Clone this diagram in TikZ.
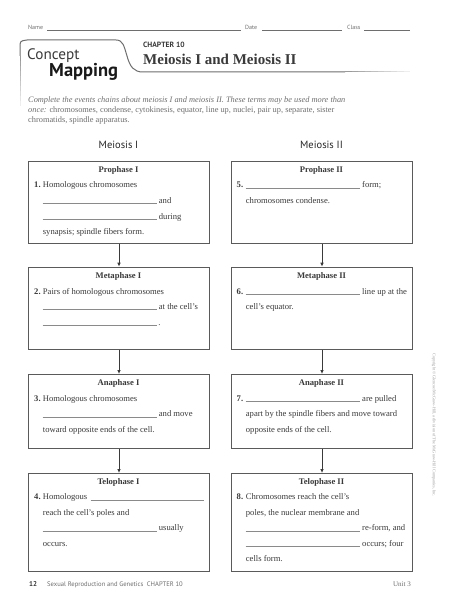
\documentclass[tikz,border=0pt]{standalone}
\usepackage{fontspec}
\setmainfont{Liberation Serif}
\setsansfont{PT Sans}
\usetikzlibrary{arrows.meta}
\definecolor{ink}{HTML}{3A3A3A}
\definecolor{boxgray}{HTML}{5A5A5A}
\definecolor{blankgray}{HTML}{8A8A8A}
\definecolor{softgray}{HTML}{6E6E6E}
\begin{document}
\begin{tikzpicture}[x=1pt,y=-1pt,
  box/.style={draw=boxgray, line width=1pt, minimum width=181pt, anchor=north west, inner sep=0pt},
  txt/.style={anchor=base west, inner sep=0pt, font=\fontsize{8.6}{10}\selectfont, text=ink},
  num/.style={anchor=base west, inner sep=0pt, font=\fontsize{8.6}{10}\selectfont\bfseries, text=ink},
  ttl/.style={anchor=base, inner sep=0pt, font=\fontsize{8.6}{10}\selectfont\bfseries, text=ink},
  blank/.style={draw=blankgray, line width=0.6pt},
  arr/.style={draw=ink, line width=0.8pt, -{Latex[length=4pt,width=3.6pt]}},
  colhead/.style={anchor=center, inner sep=0pt, font=\sffamily\fontsize{10.5}{12}\selectfont, text=black!85},
  hdr/.style={anchor=base west, inner sep=0pt, font=\sffamily\fontsize{6}{7}\selectfont, text=softgray},
  hline/.style={draw=softgray, line width=0.5pt}
]
\useasboundingbox[fill=white] (0,0) rectangle (474,612);

% ---------- header ----------
\node[hdr] (name) at (28,30) {Name};
\draw[hline] (47,30.5) -- (241,30.5);
\node[hdr] (date) at (245,30) {Date};
\draw[hline] (262,30.5) -- (342,30.5);
\node[hdr] (class) at (347,30) {Class};
\draw[hline] (364,30.5) -- (410,30.5);

% tab outline
\draw[draw=softgray, line width=1pt] (20,56) -- (20,48) .. controls (20,41) .. (27,40) -- (116,40)
  .. controls (123,40) and (124,46) .. (127,56) .. controls (130,67) and (134,72) .. (143,72) -- (345,72);
\foreach \i in {0,...,9}{
  \pgfmathsetmacro{\p}{70-6.5*\i}
  \draw[draw=softgray!\p!white, line width=1pt] (20,{56+5*\i}) -- (20,{61+5*\i});
  \draw[draw=softgray!\p!white, line width=1pt] ({345+6.5*\i},72) -- ({351.5+6.5*\i},72);
}
\node[anchor=base west, inner sep=0pt, font=\sffamily\fontsize{15.2}{18}\selectfont, text=ink] (concept) at (27,60) {Concept};
\node[anchor=base west, inner sep=0pt, font=\sffamily\bfseries\fontsize{18.5}{20}\selectfont, text=black!90] (mapping) at (49,77) {Mapping};
\node[anchor=base west, inner sep=0pt, font=\sffamily\bfseries\fontsize{7.6}{9}\selectfont, text=ink] (chap) at (143,47.5) {CHAPTER 10};
\node[anchor=base west, inner sep=0pt, font=\bfseries\fontsize{15}{17}\selectfont, text=ink] (title) at (143,65) {Meiosis I and Meiosis II};

% instructions
\node[anchor=base west, inner sep=0pt, font=\itshape\fontsize{8.35}{10}\selectfont, text=softgray] (ins1) at (28,102.5) {Complete the events chains about meiosis I and meiosis II. These terms may be used more than};
\node[anchor=base west, inner sep=0pt, font=\fontsize{8.35}{10}\selectfont, text=softgray] (ins2) at (28,112.5) {\textit{once:} chromosomes, condense, cytokinesis, equator, line up, nuclei, pair up, separate, sister};
\node[anchor=base west, inner sep=0pt, font=\fontsize{8.35}{10}\selectfont, text=softgray] (ins3) at (28,122.5) {chromatids, spindle apparatus.};

\node[colhead] (h1) at (118.5,145) {Meiosis I};
\node[colhead] (h2) at (321.5,145) {Meiosis II};

% ---------- boxes ----------
\node[box, minimum height=82pt]   (p1) at (28,160.7) {};
\node[box, minimum height=82.6pt] (m1) at (28,266.7) {};
\node[box, minimum height=74pt]   (a1) at (28,374) {};
\node[box, minimum height=97.7pt] (t1) at (28,473) {};
\node[box, minimum height=82pt]   (p2) at (231,160.7) {};
\node[box, minimum height=82.6pt] (m2) at (231,266.7) {};
\node[box, minimum height=74pt]   (a2) at (231,374) {};
\node[box, minimum height=97.7pt] (t2) at (231,473) {};

\draw[arr] (p1.south) -- (m1.north);
\draw[arr] (m1.south) -- (a1.north);
\draw[arr] (a1.south) -- (t1.north);
\draw[arr] (p2.south) -- (m2.north);
\draw[arr] (m2.south) -- (a2.north);
\draw[arr] (a2.south) -- (t2.north);

% Prophase I
\node[ttl] (p1t) at (118.5,172.5) {Prophase I};
\node[num] (p1n) at (34,188) {1.};
\node[txt] (p1a) at (42.7,188) {Homologous chromosomes};
\draw[blank] (42.7,203.5) -- (156.7,203.5);
\node[txt] (p1b) at (158.7,203.5) {and};
\draw[blank] (42.7,219) -- (156.7,219);
\node[txt] (p1c) at (158.7,219) {during};
\node[txt] (p1d) at (42.7,234.5) {synapsis; spindle fibers form.};

% Metaphase I
\node[ttl] (m1t) at (118.5,278.5) {Metaphase I};
\node[num] (m1n) at (34,294) {2.};
\node[txt] (m1a) at (42.7,294) {Pairs of homologous chromosomes};
\draw[blank] (42.7,309.5) -- (156.7,309.5);
\node[txt] (m1b) at (158.7,309.5) {at the cell’s};
\draw[blank] (42.7,325) -- (156.7,325);
\node[txt] (m1c) at (158.2,325) {.};

% Anaphase I
\node[ttl] (a1t) at (118.5,385.8) {Anaphase I};
\node[num] (a1n) at (34,401.3) {3.};
\node[txt] (a1a) at (42.7,401.3) {Homologous chromosomes};
\draw[blank] (42.7,416.8) -- (156.7,416.8);
\node[txt] (a1b) at (158.7,416.8) {and move};
\node[txt] (a1c) at (42.7,432.3) {toward opposite ends of the cell.};

% Telophase I
\node[ttl] (t1t) at (118.5,484.8) {Telophase I};
\node[num] (t1n) at (34,499.8) {4.};
\node[txt] (t1a) at (42.7,499.8) {Homologous};
\draw[blank] (90.7,499.8) -- (204,499.8);
\node[txt] (t1b) at (42.7,515.3) {reach the cell’s poles and};
\draw[blank] (42.7,530.8) -- (156.7,530.8);
\node[txt] (t1c) at (158.7,530.8) {usually};
\node[txt] (t1d) at (42.7,546.3) {occurs.};

% Prophase II
\node[ttl] (p2t) at (321.5,172.5) {Prophase II};
\node[num] (p2n) at (236.5,188) {5.};
\draw[blank] (245.7,188) -- (360,188);
\node[txt] (p2a) at (362,188) {form;};
\node[txt] (p2b) at (245.7,203.5) {chromosomes condense.};

% Metaphase II
\node[ttl] (m2t) at (321.5,278.5) {Metaphase II};
\node[num] (m2n) at (236.5,294) {6.};
\draw[blank] (245.7,294) -- (360,294);
\node[txt] (m2a) at (362,294) {line up at the};
\node[txt] (m2b) at (245.7,309.5) {cell’s equator.};

% Anaphase II
\node[ttl] (a2t) at (321.5,385.8) {Anaphase II};
\node[num] (a2n) at (236.5,401.3) {7.};
\draw[blank] (245.7,401.3) -- (360,401.3);
\node[txt] (a2a) at (362,401.3) {are pulled};
\node[txt] (a2b) at (245.7,416.8) {apart by the spindle fibers and move toward};
\node[txt] (a2c) at (245.7,432.3) {opposite ends of the cell.};

% Telophase II
\node[ttl] (t2t) at (321.5,484.8) {Telophase II};
\node[num] (t2n) at (236.5,499.8) {8.};
\node[txt] (t2a) at (245.7,499.8) {Chromosomes reach the cell’s};
\node[txt] (t2b) at (245.7,515.3) {poles, the nuclear membrane and};
\draw[blank] (245.7,530.8) -- (360,530.8);
\node[txt] (t2c) at (362,530.8) {re-form, and};
\draw[blank] (245.7,546.3) -- (360,546.3);
\node[txt] (t2d) at (362,546.3) {occurs; four};
\node[txt] (t2e) at (245.7,561.8) {cells form.};

% ---------- footer ----------
\node[anchor=base west, inner sep=0pt, font=\sffamily\bfseries\fontsize{7}{8}\selectfont, text=ink] (pg) at (29,586.5) {12};
\node[anchor=base west, inner sep=0pt, font=\sffamily\fontsize{6.6}{8}\selectfont, text=softgray] (foot) at (47,586.5) {Sexual Reproduction and Genetics\ \ CHAPTER 10};
\node[anchor=base east, inner sep=0pt, font=\fontsize{7}{8}\selectfont, text=softgray] (unit) at (411,586.5) {Unit 3};
\node[rotate=-90, inner sep=0pt, font=\fontsize{4.2}{5}\selectfont, text=softgray!70] (copy) at (434,425) {Copyright © Glencoe/McGraw-Hill, a division of The McGraw-Hill Companies, Inc.};
\end{tikzpicture}
\end{document}
